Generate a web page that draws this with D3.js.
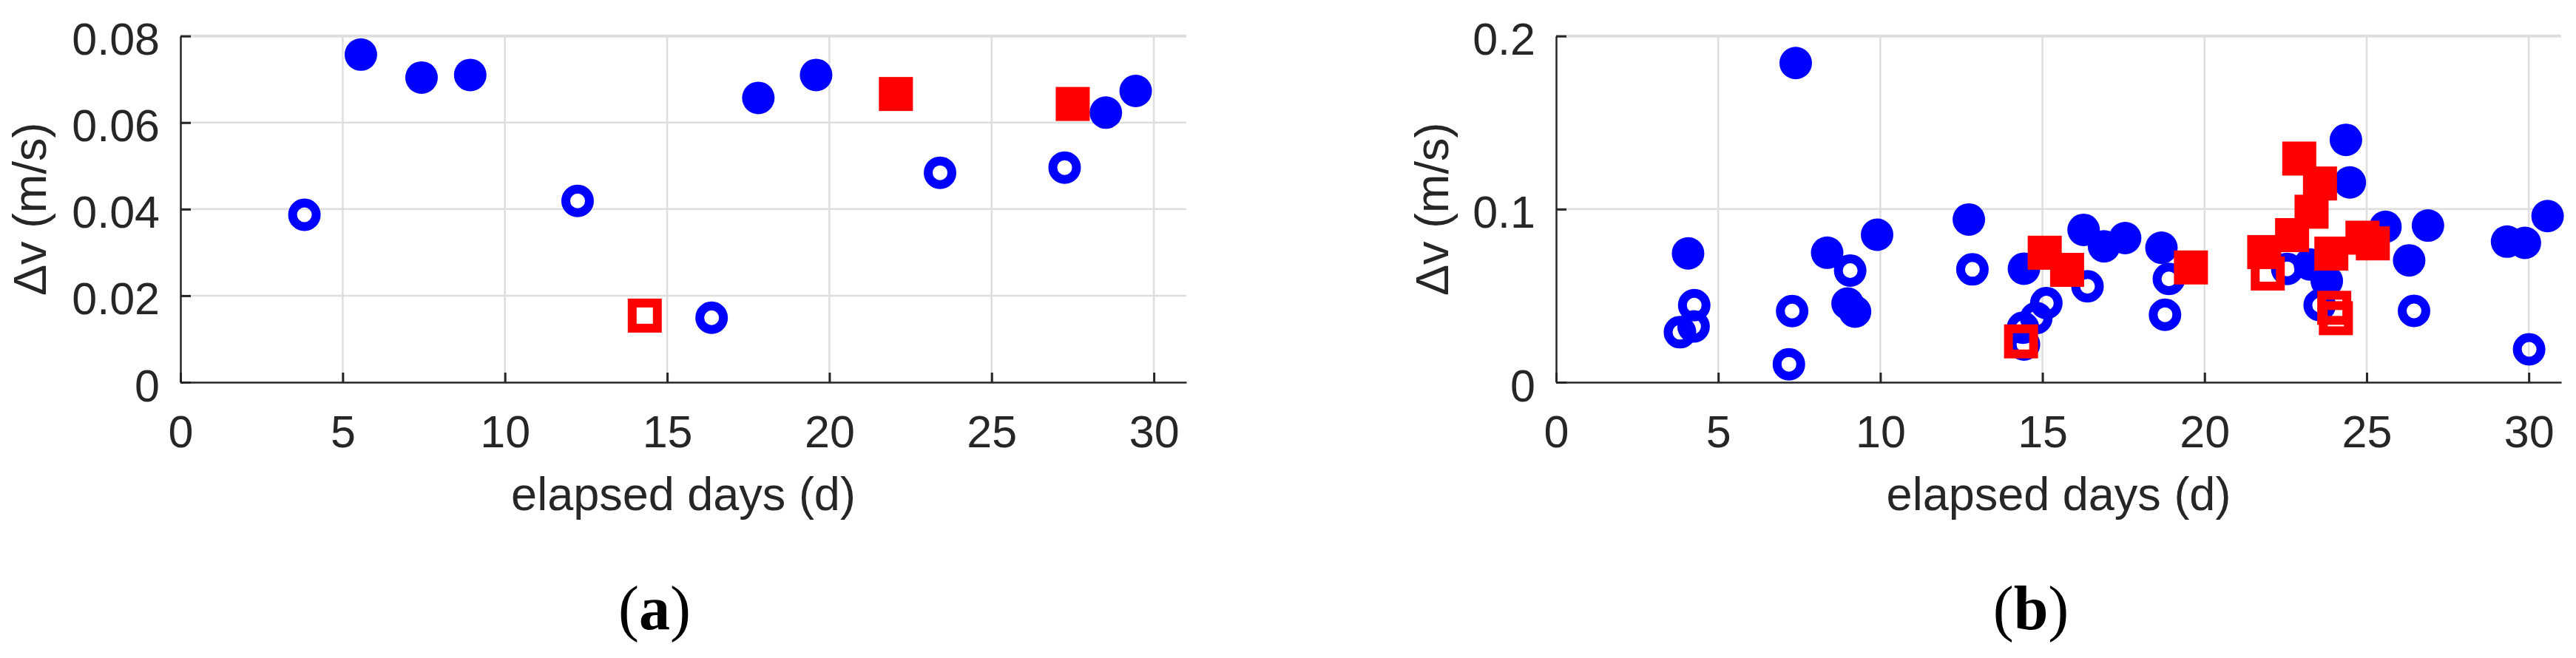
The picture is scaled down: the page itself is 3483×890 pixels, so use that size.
<!DOCTYPE html>
<html><head><meta charset="utf-8">
<script src="https://cdn.jsdelivr.net/npm/d3@7"></script>
<style>body{margin:0;background:#fff} svg{display:block}</style>
</head><body>
<svg id="c" width="3483" height="890"></svg>
<script>
// ---------- tick labels ----------
const xTicks = [0, 5, 10, 15, 20, 25, 30];
const xTickLabels = ["0", "5", "10", "15", "20", "25", "30"];
const aYTicks = [0, 0.02, 0.04, 0.06, 0.08];
const aYTickLabels = ["0", "0.02", "0.04", "0.06", "0.08"];
const bYTicks = [0, 0.1, 0.2];
const bYTickLabels = ["0", "0.1", "0.2"];
const xLabel = "elapsed days (d)";
const yLabel = "\u0394v (m/s)";

// ---------- panel (a) data ----------
const aBlueFilledX = [5.56, 7.43, 8.93, 17.81, 19.59, 28.52, 29.44];
const aBlueFilledY = [0.0757, 0.0704, 0.0710, 0.0657, 0.0710, 0.0623, 0.0673];
const aBlueHollowX = [3.82, 12.24, 16.37, 23.41, 27.25];
const aBlueHollowY = [0.0387, 0.0419, 0.0149, 0.0484, 0.0496];
const aRedFilledX = [22.05, 27.50];
const aRedFilledY = [0.0666, 0.0643];
const aRedHollowX = [14.31];
const aRedHollowY = [0.0154];

// ---------- panel (b) data ----------
const bBlueFilledX = [4.07, 7.39, 8.36, 8.99, 9.22, 9.90, 12.73, 14.43, 16.27, 16.90, 17.55, 18.67, 23.25, 23.77, 24.36, 24.48, 25.58, 26.31, 26.89, 29.33, 29.88, 30.58];
const bBlueFilledY = [0.0744, 0.1844, 0.0748, 0.0455, 0.0408, 0.0852, 0.0940, 0.0656, 0.0880, 0.0785, 0.0833, 0.0777, 0.0680, 0.0585, 0.1400, 0.1154, 0.0898, 0.0704, 0.0905, 0.0812, 0.0805, 0.0960];
const bBlueHollowX = [3.82, 4.24, 4.26, 7.18, 7.28, 9.07, 12.84, 14.43, 14.40, 14.81, 15.12, 16.39, 18.78, 18.90, 22.55, 23.55, 26.46, 30.01];
const bBlueHollowY = [0.0289, 0.0322, 0.0445, 0.0104, 0.0411, 0.0645, 0.0652, 0.0218, 0.0315, 0.0371, 0.0457, 0.0554, 0.0390, 0.0597, 0.0655, 0.0445, 0.0412, 0.0190];
const bRedFilledX = [15.07, 15.76, 19.58, 21.84, 22.70, 23.30, 23.56, 22.92, 23.91, 24.87, 25.19];
const bRedFilledY = [0.0748, 0.0649, 0.0663, 0.0752, 0.0850, 0.0985, 0.1148, 0.1292, 0.0743, 0.0835, 0.0802];
const bRedHollowX = [14.34, 21.95, 24.00, 24.05];
const bRedHollowY = [0.0236, 0.0628, 0.0430, 0.0370];

const svg = d3.select("#c");
svg.append("rect").attr("width", 3483).attr("height", 890).attr("fill", "#fff");

const AX = "#262626";
const FONT = "'Liberation Sans', Arial, Helvetica, sans-serif";
const BLUE = "#0000ff", RED = "#ff0000";

function zip(xs, ys) { return xs.map((v, i) => [v, ys[i]]); }

function panel(o) {
  const top = 48.7, bottom = 517;
  const x = d3.scaleLinear().domain([0, 31]).range([o.left, o.right]);
  const y = d3.scaleLinear().domain([0, o.ymax]).range([bottom, top]);
  const g = svg.append("g");

  // grid
  const grid = g.append("g").attr("stroke", "#dedede").attr("stroke-width", 2.5);
  grid.selectAll("line.v").data(xTicks.filter(t => t > 0)).join("line")
    .attr("x1", d => x(d)).attr("x2", d => x(d)).attr("y1", top).attr("y2", bottom);
  grid.selectAll("line.h").data(o.yTicks.filter(t => t > 0)).join("line")
    .attr("x1", o.left).attr("x2", o.right).attr("y1", d => y(d)).attr("y2", d => y(d))
    .attr("stroke-width", d => d === o.ymax ? 4 : 2.5);

  // axes
  const xa = g.append("g").attr("transform", `translate(0,${bottom})`)
    .call(d3.axisBottom(x).tickValues(xTicks).tickFormat((d, i) => xTickLabels[i])
      .tickSizeInner(-13).tickSizeOuter(0).tickPadding(45));
  const ya = g.append("g").attr("transform", `translate(${o.left},0)`)
    .call(d3.axisLeft(y).tickValues(o.yTicks).tickFormat((d, i) => o.yTickLabels[i])
      .tickSizeInner(-14).tickSizeOuter(0).tickPadding(28));
  [xa, ya].forEach(a => {
    a.select(".domain").attr("stroke", AX).attr("stroke-width", 2.5);
    a.selectAll(".tick line").attr("stroke", AX).attr("stroke-width", 3);
    a.selectAll(".tick text").attr("fill", AX).style("font-family", FONT).style("font-size", "61px");
  });
  ya.selectAll(".tick text").attr("dy", "0.41em");
  ya.selectAll(".tick").filter(d => d > 0).select("line").attr("stroke-width", 3);

  // labels
  g.append("text").attr("x", (o.left + o.right) / 2).attr("y", 690)
    .attr("text-anchor", "middle").attr("fill", AX)
    .style("font-family", FONT).style("font-size", "63px").text(xLabel);
  g.append("text").attr("transform", `translate(${o.ylabX},${(top + bottom) / 2}) rotate(-90)`)
    .attr("text-anchor", "middle").attr("fill", AX)
    .style("font-family", FONT).style("font-size", "63px").text(yLabel);
  const pl = g.append("text").attr("x", o.tagX).attr("y", 851).attr("text-anchor", "middle")
    .attr("fill", "#000").style("font-family", "'Liberation Serif', 'Times New Roman', serif")
    .style("font-size", "84px");
  pl.append("tspan").text("(");
  pl.append("tspan").attr("font-weight", "bold").text(o.tag);
  pl.append("tspan").text(")");

  // markers
  const m = g.append("g");
  m.selectAll("circle.bh").data(zip(o.bhx, o.bhy)).join("circle")
    .attr("cx", d => x(d[0])).attr("cy", d => y(d[1])).attr("r", 16)
    .attr("fill", "none").attr("stroke", BLUE).attr("stroke-width", 12);
  m.selectAll("circle.bf").data(zip(o.bfx, o.bfy)).join("circle")
    .attr("cx", d => x(d[0])).attr("cy", d => y(d[1])).attr("r", 22)
    .attr("fill", BLUE);
  m.selectAll("rect.rh").data(zip(o.rhx, o.rhy)).join("rect")
    .attr("x", d => x(d[0]) - 17).attr("y", d => y(d[1]) - 17).attr("width", 34).attr("height", 34)
    .attr("fill", "none").attr("stroke", RED).attr("stroke-width", 12);
  m.selectAll("rect.rf").data(zip(o.rfx, o.rfy)).join("rect")
    .attr("x", d => x(d[0]) - 23).attr("y", d => y(d[1]) - 23).attr("width", 46).attr("height", 46)
    .attr("fill", RED);
}

panel({
  left: 244, right: 1604, ymax: 0.08, yTicks: aYTicks, yTickLabels: aYTickLabels,
  ylabX: 62, tagX: 885, tag: "a",
  bfx: aBlueFilledX, bfy: aBlueFilledY, bhx: aBlueHollowX, bhy: aBlueHollowY,
  rfx: aRedFilledX, rfy: aRedFilledY, rhx: aRedHollowX, rhy: aRedHollowY
});
panel({
  left: 2104, right: 3463, ymax: 0.2, yTicks: bYTicks, yTickLabels: bYTickLabels,
  ylabX: 1958, tagX: 2746, tag: "b",
  bfx: bBlueFilledX, bfy: bBlueFilledY, bhx: bBlueHollowX, bhy: bBlueHollowY,
  rfx: bRedFilledX, rfy: bRedFilledY, rhx: bRedHollowX, rhy: bRedHollowY
});
</script>
</body></html>
